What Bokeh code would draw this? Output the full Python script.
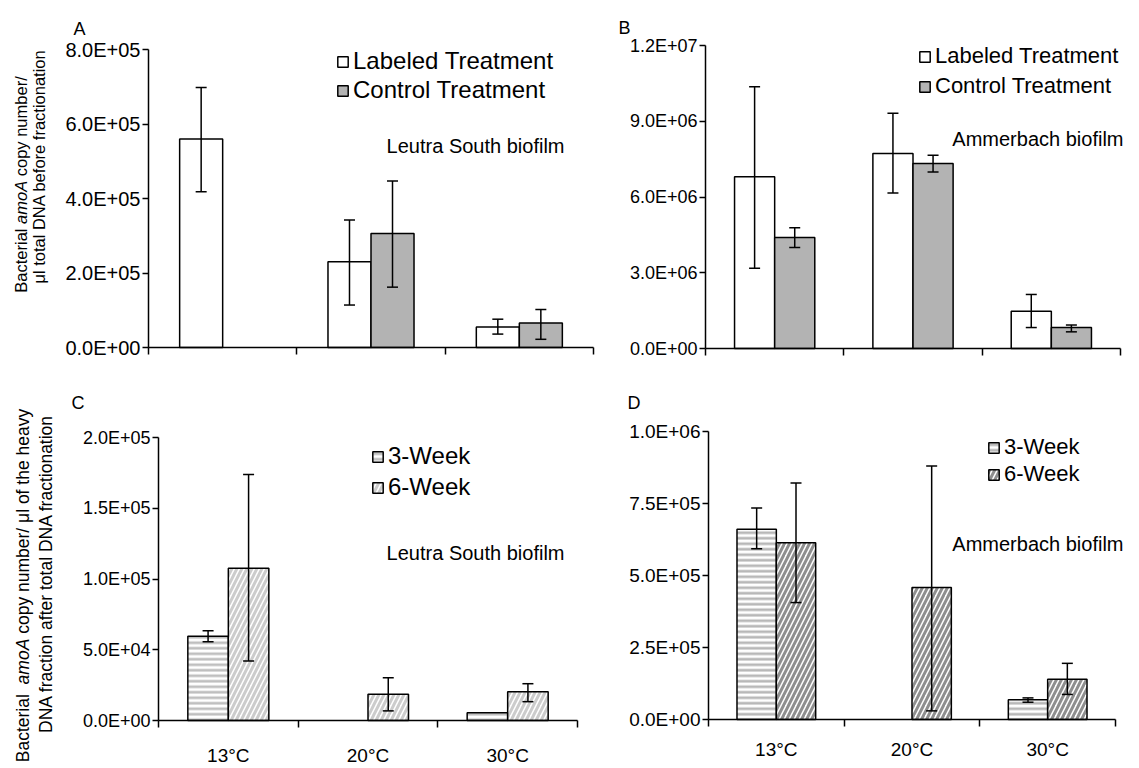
import math
from bokeh.plotting import figure
from bokeh.models import (Range1d, FixedTicker, ColumnDataSource, Whisker, TeeHead,
                          Legend, LegendItem, Label)
from bokeh.layouts import row, column
from bokeh.embed import file_html
from bokeh.resources import INLINE

FONT = "Liberation Sans"

# ---------------- data ----------------
categories = ["13°C", "20°C", "30°C"]

# Panel A (Leutra South, before fractionation)
a_labeled = [5.60e5, 2.30e5, 0.55e5]
a_labeled_hi = [6.98e5, 3.42e5, 0.76e5]
a_labeled_lo = [4.18e5, 1.14e5, 0.36e5]
a_control = [None, 3.06e5, 0.66e5]
a_control_hi = [None, 4.47e5, 1.02e5]
a_control_lo = [None, 1.62e5, 0.22e5]

# Panel B (Ammerbach, before fractionation)
b_labeled = [6.80e6, 7.72e6, 1.48e6]
b_labeled_hi = [10.37e6, 9.32e6, 2.14e6]
b_labeled_lo = [3.18e6, 6.16e6, 0.83e6]
b_control = [4.40e6, 7.33e6, 0.83e6]
b_control_hi = [4.78e6, 7.65e6, 0.93e6]
b_control_lo = [4.00e6, 6.99e6, 0.66e6]

# Panel C (Leutra South, heavy fraction)
c_week3 = [59.6e3, None, 5.4e3]
c_week3_hi = [63.4e3, None, None]
c_week3_lo = [55.7e3, None, None]
c_week6 = [107.6e3, 18.5e3, 20.4e3]
c_week6_hi = [173.8e3, 30.2e3, 26.0e3]
c_week6_lo = [42.1e3, 6.8e3, 13.3e3]

# Panel D (Ammerbach, heavy fraction)
d_week3 = [661e3, None, 69e3]
d_week3_hi = [734e3, None, 75e3]
d_week3_lo = [593e3, None, 60e3]
d_week6 = [614e3, 458e3, 140e3]
d_week6_hi = [821e3, 880e3, 195e3]
d_week6_lo = [406e3, 30e3, 87e3]

a_ticks = [0, 200000, 400000, 600000, 800000]
a_tick_labels = ["0.0E+00", "2.0E+05", "4.0E+05", "6.0E+05", "8.0E+05"]
b_ticks = [0, 3000000, 6000000, 9000000, 12000000]
b_tick_labels = ["0.0E+00", "3.0E+06", "6.0E+06", "9.0E+06", "1.2E+07"]
c_ticks = [0, 50000, 100000, 150000, 200000]
c_tick_labels = ["0.0E+00", "5.0E+04", "1.0E+05", "1.5E+05", "2.0E+05"]
d_ticks = [0, 250000, 500000, 750000, 1000000]
d_tick_labels = ["0.0E+00", "2.5E+05", "5.0E+05", "7.5E+05", "1.0E+06"]

# ---------------- helpers ----------------
ARIAL = {' ': 278, '/': 278, 'μ': 576, 'A': 667, 'B': 667, 'D': 722, 'N': 722,
         'a': 556, 'b': 556, 'c': 500, 'e': 556, 'f': 278, 'h': 556, 'i': 222,
         'l': 222, 'm': 833, 'n': 556, 'o': 556, 'p': 556, 'r': 333, 't': 278,
         'u': 556, 'v': 500, 'y': 500}


def text_width(s, size):
    return sum(ARIAL.get(ch, 556) for ch in s) / 1000.0 * size


BAR_W = 0.29
NCAT = len(categories)


class Panel:
    """A figure whose frame fills the whole canvas; axes are pinned at the data origin."""

    def __init__(self, left, top, w, h, ax_x0, ax_x1, ax_y0, ax_y1, ymax):
        self.left, self.top, self.w, self.h = left, top, w, h
        sx = (ax_x1 - ax_x0) / NCAT
        xs = -(ax_x0 - left) / sx
        xe = NCAT + (left + w - ax_x1) / sx
        sy = (ax_y0 - ax_y1) / ymax
        ys = -(top + h - ax_y0) / sy
        ye = ymax + (ax_y1 - top) / sy
        p = figure(width=w, height=h, x_range=Range1d(xs, xe), y_range=Range1d(ys, ye),
                   output_backend="svg", toolbar_location=None,
                   min_border_left=0, min_border_right=0,
                   min_border_top=0, min_border_bottom=0)
        p.title.visible = False
        p.outline_line_color = None
        p.grid.visible = False
        p.background_fill_color = "white"
        p.border_fill_color = "white"
        self.p = p
        self.ymax = ymax

    def sx(self, page_x):
        return page_x - self.left

    def sy(self, page_y):
        return self.top + self.h - page_y


def style_axes(pn, yticks, ylabels, ysize, show_x, xsize="19px", xstandoff=20):
    p = pn.p
    ya = p.yaxis[0]
    ya.fixed_location = 0
    ya.bounds = (0, pn.ymax)
    ya.ticker = FixedTicker(ticks=yticks, minor_ticks=[])
    ya.major_label_overrides = {t: l for t, l in zip(yticks, ylabels)}
    ya.major_tick_out = 6
    ya.major_tick_in = 0
    ya.minor_tick_out = 0
    ya.minor_tick_in = 0
    ya.axis_line_width = 1.5
    ya.major_tick_line_width = 1.5
    ya.axis_line_color = "black"
    ya.major_tick_line_color = "black"
    ya.major_label_text_font = FONT
    ya.major_label_text_font_size = ysize
    ya.major_label_text_color = "black"
    ya.major_label_standoff = 2

    xa = p.xaxis[0]
    xa.fixed_location = 0
    xa.bounds = (0, NCAT)
    centers = [i + 0.5 for i in range(NCAT)]
    xa.ticker = FixedTicker(ticks=centers, minor_ticks=list(range(NCAT + 1)))
    xa.major_label_overrides = {c: (l if show_x else "") for c, l in zip(centers, categories)}
    xa.major_tick_out = 0
    xa.major_tick_in = 0
    xa.minor_tick_out = 7
    xa.minor_tick_in = 0
    xa.minor_tick_line_color = "black"
    xa.minor_tick_line_width = 1.5
    xa.axis_line_width = 1.5
    xa.axis_line_color = "black"
    xa.major_label_text_font = FONT
    xa.major_label_text_font_size = xsize
    xa.major_label_text_color = "black"
    xa.major_label_standoff = xstandoff


def add_series(pn, values, hi, lo, offset, **style):
    p = pn.p
    xs = [i + 0.5 + offset for i, v in enumerate(values) if v is not None]
    tops = [v for v in values if v is not None]
    src = ColumnDataSource(dict(x=xs, top=tops))
    r = p.vbar(x="x", top="top", bottom=0, width=BAR_W, source=src,
               line_color="black", line_width=1.5, **style)
    wx = [i + 0.5 + offset for i, h in enumerate(hi) if h is not None]
    wu = [h for h in hi if h is not None]
    wl = [l for l in lo if l is not None]
    if wx:
        wsrc = ColumnDataSource(dict(base=wx, upper=wu, lower=wl))
        wh = Whisker(base="base", upper="upper", lower="lower", source=wsrc,
                     level="overlay", line_color="black", line_width=1.5,
                     upper_head=TeeHead(size=11, line_color="black", line_width=1.5),
                     lower_head=TeeHead(size=11, line_color="black", line_width=1.5))
        p.add_layout(wh)
    return r


def add_legend(pn, items, page_x, page_bottom, size, spacing):
    leg = Legend(items=[LegendItem(label=l, renderers=[r]) for l, r in items],
                 location=(int(round(pn.sx(page_x))), int(round(pn.sy(page_bottom)))),
                 orientation="vertical",
                 border_line_color=None, background_fill_alpha=0,
                 padding=0, margin=0, spacing=int(round(spacing)),
                 glyph_width=13, glyph_height=13, label_standoff=4,
                 label_text_font=FONT, label_text_font_size=f"{size}px",
                 label_text_color="black")
    pn.p.add_layout(leg)


def add_text(pn, text, page_x, page_y, size, align="left", baseline="alphabetic",
             style="normal", angle=0.0):
    pn.p.add_layout(Label(x=pn.sx(page_x), y=pn.sy(page_y), x_units="screen", y_units="screen",
                          text=text, text_font=FONT, text_font_size=f"{size}px",
                          text_font_style=style, text_align=align, text_baseline=baseline,
                          angle=angle, text_color="black"))


def add_vertical_line(pn, pieces, page_x, page_center_y, size):
    """Rotated (bottom-to-top) line of text made of pieces with their own font style."""
    total = sum(text_width(t, size) for t, _ in pieces)
    pos = page_center_y + total / 2.0  # page y where the text starts (bottom)
    for t, st in pieces:
        lead = len(t) - len(t.lstrip(" "))
        start = pos - text_width(" " * lead, size)
        add_text(pn, t.strip(" "), page_x, start, size, align="left", baseline="middle",
                 style=st, angle=math.pi / 2)
        pos -= text_width(t, size)


WHITE = dict(fill_color="white")
GRAY = dict(fill_color="#b3b3b3")

# ---------------- Panel A ----------------
A = Panel(0, 0, 605, 375, 148, 593, 347, 49, 8e5)
style_axes(A, a_ticks, a_tick_labels, "20px", False)
rA1 = add_series(A, a_labeled, a_labeled_hi, a_labeled_lo, -BAR_W / 2, **WHITE)
rA2 = add_series(A, a_control, a_control_hi, a_control_lo, BAR_W / 2, **GRAY)
add_legend(A, [("Labeled Treatment", rA1), ("Control Treatment", rA2)], 336, 104.4, 24, 1)
add_text(A, "Leutra South biofilm", 564, 145, 20, align="right")
add_text(A, "A", 73, 28, 18)
add_vertical_line(A, [("Bacterial ", "normal"), ("amoA", "italic"), (" copy number/", "normal")],
                  20, 184, 16.5)
add_vertical_line(A, [("μl total DNA before fractionation", "normal")], 38, 166, 16.5)

# ---------------- Panel B ----------------
B = Panel(605, 0, 534, 375, 705, 1120, 348, 45, 1.2e7)
style_axes(B, b_ticks, b_tick_labels, "18px", False)
rB1 = add_series(B, b_labeled, b_labeled_hi, b_labeled_lo, -BAR_W / 2, **WHITE)
rB2 = add_series(B, b_control, b_control_hi, b_control_lo, BAR_W / 2, **GRAY)
add_legend(B, [("Labeled Treatment", rB1), ("Control Treatment", rB2)], 918, 99.2, 22, 4)
add_text(B, "Ammerbach biofilm", 1123, 138, 20, align="right")
add_text(B, "B", 618, 27, 18)

# ---------------- Panel C ----------------
C = Panel(0, 375, 605, 393, 158, 577, 720, 437, 2e5)
style_axes(C, c_ticks, c_tick_labels, "18px", True, xstandoff=17)
rC1 = add_series(C, c_week3, c_week3_hi, c_week3_lo, -BAR_W / 2, fill_color="white",
                 hatch_pattern="horizontal_line", hatch_color="#bfbfbf", hatch_scale=5.5,
                 hatch_weight=2.7)
rC2 = add_series(C, c_week6, c_week6_hi, c_week6_lo, BAR_W / 2, fill_color="white",
                 hatch_pattern="right_diagonal_line", hatch_color="#cccccc", hatch_scale=10,
                 hatch_weight=3)
add_legend(C, [("3-Week", rC1), ("6-Week", rC2)], 371, 500.9, 24, 3)
add_text(C, "Leutra South biofilm", 564, 552, 20, align="right")
add_text(C, "C", 71, 402, 18)
add_vertical_line(C, [("Bacterial  ", "normal"), ("amoA", "italic"),
                      (" copy number/ μl of the heavy", "normal")], 22, 585, 17.5)
add_vertical_line(C, [("DNA fraction after total DNA fractionation", "normal")], 45, 573, 17.5)

# ---------------- Panel D ----------------
D = Panel(605, 375, 534, 393, 708, 1115, 719, 431, 1e6)
style_axes(D, d_ticks, d_tick_labels, "19px", True, xstandoff=12)
rD1 = add_series(D, d_week3, d_week3_hi, d_week3_lo, -BAR_W / 2, fill_color="white",
                 hatch_pattern="horizontal_line", hatch_color="#b8b8b8", hatch_scale=5.5,
                 hatch_weight=2.7)
rD2 = add_series(D, d_week6, d_week6_hi, d_week6_lo, BAR_W / 2, fill_color="white",
                 hatch_pattern="right_diagonal_line", hatch_color="#8f8f8f", hatch_scale=10,
                 hatch_weight=3)
add_legend(D, [("3-Week", rD1), ("6-Week", rD2)], 987, 486.7, 22, 1)
add_text(D, "Ammerbach biofilm", 1123, 543, 20, align="right")
add_text(D, "D", 627, 402, 18)

layout = column(row(A.p, B.p), row(C.p, D.p))

with open("out.html", "w") as f:
    f.write(file_html(layout, INLINE))
